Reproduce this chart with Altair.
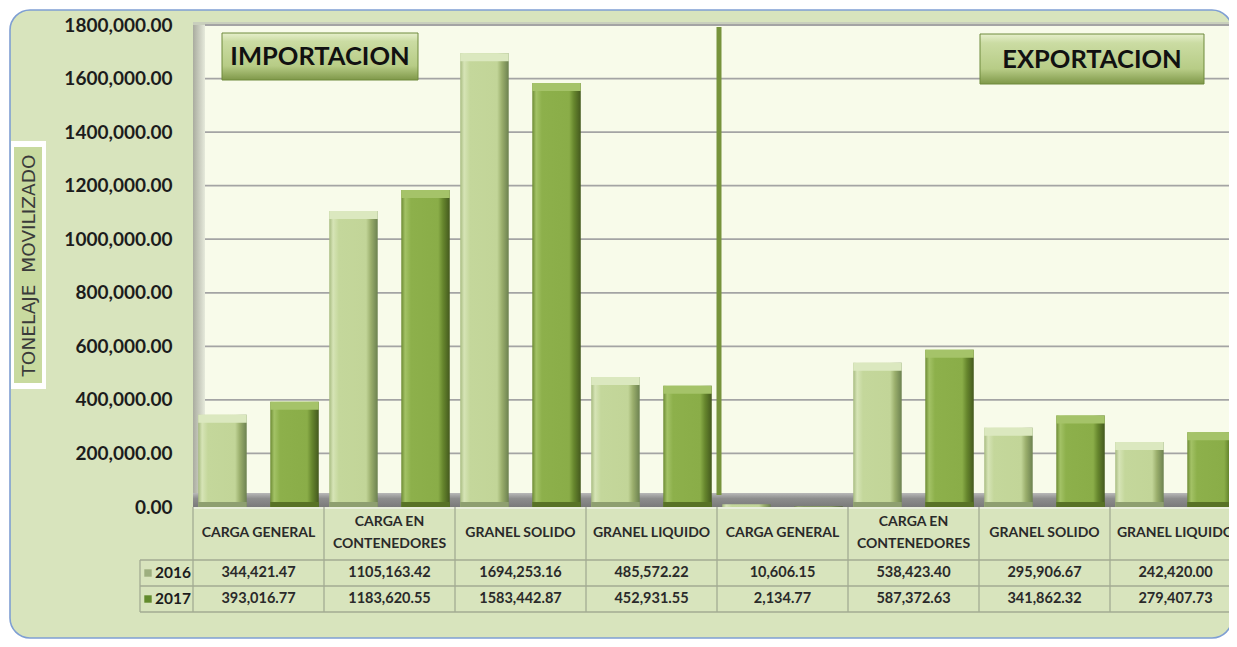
import altair as alt
import pandas as pd

# ---------------- data ----------------
categories = ["CARGA GENERAL", "CARGA EN\nCONTENEDORES", "GRANEL SOLIDO", "GRANEL LIQUIDO",
              "CARGA GENERAL", "CARGA EN\nCONTENEDORES", "GRANEL SOLIDO", "GRANEL LIQUIDO"]
group_titles = ["IMPORTACION", "EXPORTACION"]
years = ["2016", "2017"]
values_2016 = [344421.47, 1105163.42, 1694253.16, 485572.22, 10606.15, 538423.40, 295906.67, 242420.00]
values_2017 = [393016.77, 1183620.55, 1583442.87, 452931.55, 2134.77, 587372.63, 341862.32, 279407.73]
y_ticks = [0, 200000, 400000, 600000, 800000, 1000000, 1200000, 1400000, 1600000, 1800000]
axis_title = "TONELAJE\u00a0 MOVILIZADO"

# ---------------- layout ----------------
W, H, COL = 1036, 482, 131
XMAX = W / COL
FONT = "Lato"


def fmt(v):
    th = int(v // 1000)
    rest = v - th * 1000
    return f"{th},{rest:06.2f}" if th > 0 else f"{rest:.2f}"


rows = []
for i, cat in enumerate(categories):
    for yr, vals, off in ((years[0], values_2016, 0.04), (years[1], values_2017, 0.59)):
        rows.append({"col": i, "cat": cat, "year": yr, "value": vals[i],
                     "x0": i + off, "x1": i + off + 0.37, "xc": i + 0.5,
                     "label": fmt(vals[i])})
df = pd.DataFrame(rows)
cats_df = pd.DataFrame({"xc": [i + 0.5 for i in range(len(categories))], "cat": categories,
                        "lines": [c.count("\n") + 1 for c in categories]})
bounds_df = pd.DataFrame({"xb": list(range(len(categories) + 1))})
grid_df = pd.DataFrame({"value": [t for t in y_ticks if t > 0]})
sep_df = pd.DataFrame({"xb": [len(categories) // 2]})
one = pd.DataFrame({"a": [0]})

xscale = alt.Scale(domain=[0, XMAX], nice=False, zero=False)
yscale = alt.Scale(domain=[0, 1800000], nice=False, zero=True)
yaxis = alt.Axis(values=y_ticks, grid=False, domain=False, ticks=False, tickSize=0,
                 labelExpr="datum.value == 0 ? '0.00' : (datum.value / 1000) + ',000.00'",
                 labelFont=FONT, labelFontWeight="bold", labelFontSize=19, labelColor="#1c1c1c",
                 labelPadding=21, title=axis_title, titleFont="DejaVu Sans", titleFontWeight="normal",
                 titleFontSize=18.5, titleColor="#3a3a3a", titleX=-165, titleY=240,
                 titleAngle=270, titleAlign="center", titleBaseline="middle", zindex=1)


def X(f):
    return alt.X(f, type="quantitative", scale=xscale, axis=None)


def Y(f):
    return alt.Y(f, type="quantitative", scale=yscale, axis=yaxis)


def grad_h(stops):
    return alt.LinearGradient(gradient="linear", x1=0, x2=1, y1=0, y2=0,
                              stops=[alt.GradientStop(color=c, offset=o) for o, c in stops])


def grad_v(stops):
    return alt.LinearGradient(gradient="linear", x1=0, x2=0, y1=0, y2=1,
                              stops=[alt.GradientStop(color=c, offset=o) for o, c in stops])


def box(x, x2, y, y2, **kw):
    return alt.Chart(one).mark_rect(**kw).encode(
        x=alt.value(x), x2=alt.value(x2), y=alt.value(y), y2=alt.value(y2))


frame = box(-183, W + 3, -15, 613, fill="#d8e4bd", stroke="#7f9fd3", strokeWidth=1.6, cornerRadius=20)
plot_bg = box(0, W, 0, H, fill="#f8fbea")
top_edge = box(0, W, -3, 0, fill="#c9cfbd")
wall = box(0, 12, 0, H, color=grad_h([(0, "#a9ab9f"), (1, "#e6eadb")]))
grid = alt.Chart(grid_df).mark_rule(color="#a4a4a4", strokeWidth=1.8).encode(
    x=alt.value(12), x2=alt.value(W), y=Y("value"))
floor = box(0, W, H - 14, H, color=grad_v([(0, "#b9b9b9"), (0.4, "#8d8d8d"), (1, "#7a7a7a")]))
floor_line = box(0, W, H, H + 2, fill="#e9efdc")
sep = alt.Chart(sep_df).mark_rule(color="#77933c", strokeWidth=5).encode(
    x=X("xb"), xOffset=alt.value(2), y=alt.value(2), y2=alt.value(H - 12))

g2016 = grad_h([(0, "#a7bb80"), (0.08, "#d6e4b6"), (0.2, "#c4d79b"), (0.76, "#c2d598"),
                (0.86, "#9aae6c"), (1, "#6c8150")])
g2017 = grad_h([(0, "#6c8a33"), (0.08, "#a3c266"), (0.2, "#8db04b"), (0.76, "#8aad48"),
                (0.86, "#66862d"), (1, "#44591e")])

bars16 = alt.Chart(df).transform_filter(f"datum.year == '{years[0]}'").mark_rect(color=g2016).encode(
    x=X("x0"), x2="x1", y=Y("value"), y2=alt.value(H))
bars17 = alt.Chart(df).transform_filter(f"datum.year == '{years[1]}'").mark_rect(color=g2017).encode(
    x=X("x0"), x2="x1", y=Y("value"), y2=alt.value(H))
cap16 = alt.Chart(df).transform_filter(f"datum.year == '{years[0]}' && datum.value > 40000").mark_rule(
    color="#dbe8bf", strokeWidth=8, yOffset=4).encode(x=X("x0"), x2="x1", y=Y("value"))
cap17 = alt.Chart(df).transform_filter(f"datum.year == '{years[1]}' && datum.value > 40000").mark_rule(
    color="#a5c369", strokeWidth=8, yOffset=4).encode(x=X("x0"), x2="x1", y=Y("value"))
bot16 = alt.Chart(df).transform_filter(f"datum.year == '{years[0]}' && datum.value > 40000").mark_rule(
    color="#8e9f70", strokeWidth=5, yOffset=-2.5).encode(x=X("x0"), x2="x1", y=alt.value(H))
bot17 = alt.Chart(df).transform_filter(f"datum.year == '{years[1]}' && datum.value > 40000").mark_rule(
    color="#587226", strokeWidth=5, yOffset=-2.5).encode(x=X("x0"), x2="x1", y=alt.value(H))

btn = grad_v([(0, "#e6efcc"), (0.18, "#cbdca3"), (0.7, "#b7cc86"), (1, "#7f9849")])
imp_box = box(29, 225, 8, 55, color=btn, stroke="#6f8a3c", strokeWidth=1)
exp_box = box(787, 1011, 9, 59, color=btn, stroke="#6f8a3c", strokeWidth=1)
titles_df = pd.DataFrame({"t": group_titles})
imp_txt = alt.Chart(titles_df.iloc[[0]]).mark_text(font=FONT, fontWeight="bold", fontSize=25.5,
                                                  color="#111111").encode(
    text="t:N", x=alt.value(127), y=alt.value(32))
exp_txt = alt.Chart(titles_df.iloc[[1]]).mark_text(font=FONT, fontWeight="bold", fontSize=25.5,
                                                  color="#111111").encode(
    text="t:N", x=alt.value(899), y=alt.value(34.5))

ybox = box(-182, -147, 116, 364, fill="white")
ybox_in = box(-179, -151, 122, 358, fill="#c8da9f")

# ---------------- table ----------------
LINE = "#a3ab93"
hlines = alt.Chart(pd.DataFrame({"py": [535, 561, 587]})).mark_rule(color=LINE, strokeWidth=1.3).encode(
    x=alt.value(-53), x2=alt.value(W), y=alt.Y("py:Q", scale=None))
vlines = alt.Chart(bounds_df).mark_rule(color=LINE, strokeWidth=1.3).encode(
    x=X("xb"), y=alt.value(H), y2=alt.value(587))
vleft = alt.Chart(one).mark_rule(color=LINE, strokeWidth=1.3).encode(
    x=alt.value(-53), y=alt.value(535), y2=alt.value(587))
head_style = dict(font=FONT, fontWeight="bold", fontSize=14, color="#2a2a2a", lineBreak="\n", lineHeight=22)
head1 = alt.Chart(cats_df).transform_filter("datum.lines == 1").mark_text(**head_style).encode(
    x=X("xc"), y=alt.value(508), text="cat:N")
head2 = alt.Chart(cats_df).transform_filter("datum.lines == 2").mark_text(**head_style).encode(
    x=X("xc"), y=alt.value(497), text="cat:N")
vals16 = alt.Chart(df).transform_filter(f"datum.year == '{years[0]}'").mark_text(
    font=FONT, fontWeight="bold", fontSize=14.5, color="#2a2a2a").encode(
    x=X("xc"), y=alt.value(548), text="label:N")
vals17 = alt.Chart(df).transform_filter(f"datum.year == '{years[1]}'").mark_text(
    font=FONT, fontWeight="bold", fontSize=14.5, color="#2a2a2a").encode(
    x=X("xc"), y=alt.value(574), text="label:N")
yr_df = pd.DataFrame({"year": years, "py": [548, 574]})
yr_txt = alt.Chart(yr_df).mark_text(font=FONT, fontWeight="bold", fontSize=15.5, color="#1c1c1c",
                                    align="left").encode(
    x=alt.value(-38), y=alt.Y("py:Q", scale=None), text="year:N")
key16 = alt.Chart(yr_df.iloc[[0]]).mark_square(size=55, color="#9daf7f", opacity=1).encode(
    x=alt.value(-45), y=alt.Y("py:Q", scale=None))
key17 = alt.Chart(yr_df.iloc[[1]]).mark_square(size=55, color="#628b2d", opacity=1).encode(
    x=alt.value(-45), y=alt.Y("py:Q", scale=None))

chart = alt.layer(
    frame, ybox, ybox_in, plot_bg, top_edge, wall, grid, floor, floor_line, sep,
    bars16, bars17, cap16, cap17, bot16, bot17,
    imp_box, exp_box, imp_txt, exp_txt,
    hlines, vlines, vleft, head1, head2, vals16, vals17, yr_txt, key16, key17,
).properties(
    width=W, height=H,
    autosize=alt.AutoSizeParams(type="none"),
    padding={"left": 185, "top": 17, "right": 0, "bottom": 132},
    background="white",
).configure_view(strokeWidth=0)

chart.save("out.html", embed_options={"renderer": "svg", "actions": False})
